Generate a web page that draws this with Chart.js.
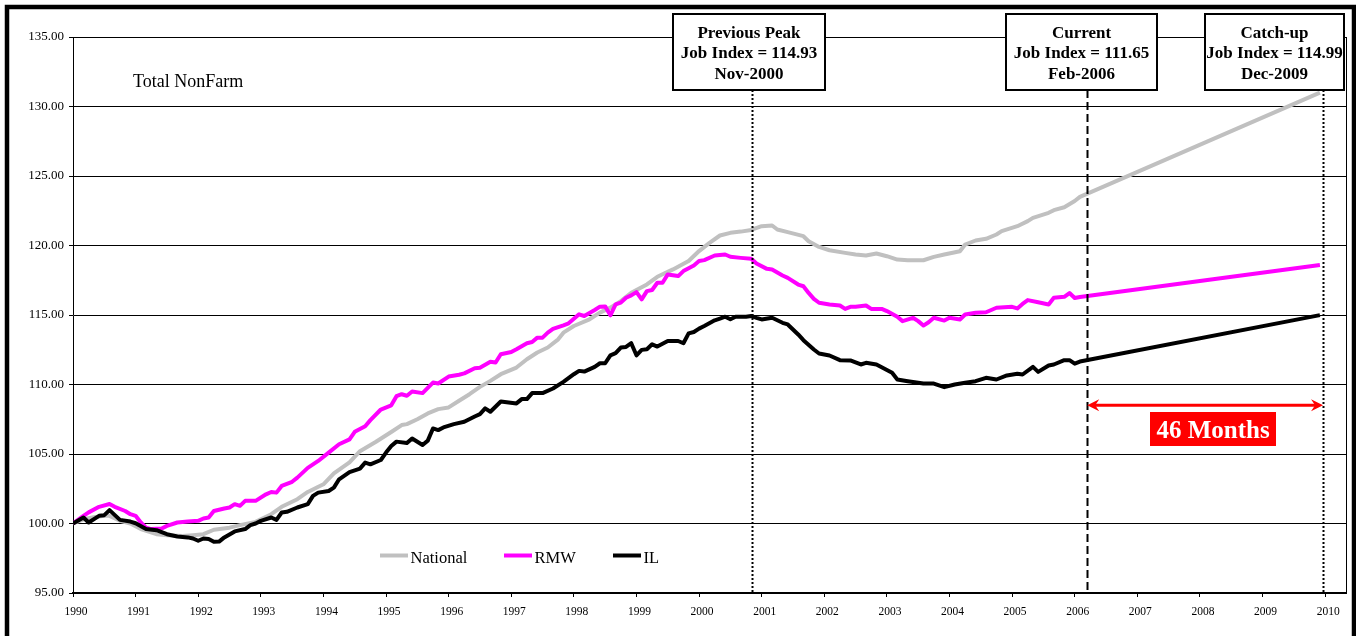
<!DOCTYPE html>
<html>
<head>
<meta charset="utf-8">
<script src="https://cdn.jsdelivr.net/npm/chart.js@4.4.0/dist/chart.umd.min.js"></script>
<style>
html,body{margin:0;padding:0;background:#fff;}
#wrap{width:1356px;height:636px;position:relative;overflow:hidden;}
</style>
</head>
<body>
<div id="wrap"><canvas id="c" width="1356" height="636"></canvas></div>
<script>
// ---------- DATA (x = months since Jan-1990) ----------
const yearTickMonths = [0,12,24,36,48,60,72,84,96,108,120,132,144,156,168,180,192,204,216,228,240];
const yearLabels = ['1990','1991','1992','1993','1994','1995','1996','1997','1998','1999','2000',
                    '2001','2002','2003','2004','2005','2006','2007','2008','2009','2010'];

const nationalMonths = [
  0,2,4,6,7,9,11,13,16,18,
  21,23,25,27,30,32,35,38,40,43,
  45,48,50,53,55,58,61,63,64,66,
  68,70,72,74,76,78,80,82,85,87,
  89,91,93,94,96,99,101,103,105,107,
  110,112,115,118,120,122,124,126,128,130,
  132,134,135,137,140,141,143,145,148,150,
  152,154,156,158,160,163,165,167,170,171,
  173,175,177,178,181,183,184,187,188,190,
  192,193,239];
const nationalValues = [
  100.00,100.30,100.45,100.55,100.55,100.20,100.00,99.60,99.23,99.16,
  99.10,99.16,99.23,99.55,99.70,99.88,100.12,100.67,101.20,101.75,
  102.27,102.82,103.60,104.40,105.20,105.86,106.58,107.08,107.15,107.50,
  107.92,108.23,108.35,108.83,109.30,109.83,110.26,110.74,111.22,111.82,
  112.30,112.66,113.25,113.73,114.21,114.69,115.17,115.53,116.00,116.60,
  117.20,117.75,118.28,118.88,119.60,120.19,120.72,120.91,121.00,121.12,
  121.39,121.44,121.15,120.96,120.67,120.31,119.90,119.66,119.47,119.35,
  119.28,119.42,119.23,118.99,118.94,118.94,119.18,119.35,119.59,120.07,
  120.36,120.48,120.79,121.03,121.39,121.75,121.99,122.35,122.54,122.75,
  123.20,123.50,131.00];

const rmwMonths = [
  0,2,3,5,7,8,10,11,12,13,
  14,15,17,18,20,22,24,25,26,27,
  29,30,31,32,33,35,37,38,39,40,
  42,43,45,47,49,51,53,54,56,57,
  59,61,62,63,64,65,67,69,70,72,
  74,75,77,78,80,81,82,84,85,87,
  88,89,90,91,92,94,95,97,98,
  100,101,102,103,104,105,106,107,108,109,
  110,111,112,113,114,116,117,119,120,121,
  123,125,126,128,130,131,133,134,136,137,
  139,140,141,142,143,145,147,148,149,150,
  152,153,155,156,158,159,161,162,163,164,
  165,167,168,170,171,173,175,177,180,181,
  182,183,185,187,188,190,191,192,193,239];
const rmwValues = [
  100.00,100.55,100.80,101.20,101.40,101.20,100.90,100.67,100.55,100.07,
  99.70,99.60,99.64,99.83,100.07,100.14,100.19,100.36,100.43,100.90,
  101.08,101.15,101.39,101.27,101.63,101.63,102.10,102.27,102.22,102.70,
  103.00,103.30,104.00,104.50,105.10,105.70,106.05,106.60,107.00,107.44,
  108.20,108.50,109.16,109.30,109.19,109.50,109.38,110.14,110.07,110.57,
  110.70,110.80,111.17,111.20,111.63,111.58,112.18,112.34,112.54,112.97,
  113.06,113.37,113.37,113.73,114.00,114.26,114.40,115.05,114.93,
  115.36,115.60,115.62,114.98,115.77,115.89,116.24,116.41,116.65,116.12,
  116.72,116.80,117.32,117.32,117.92,117.80,118.16,118.56,118.88,118.95,
  119.28,119.35,119.19,119.11,119.04,118.70,118.32,118.27,117.84,117.67,
  117.19,117.07,116.59,116.16,115.88,115.76,115.68,115.44,115.59,115.59,
  115.68,115.44,115.44,115.28,114.87,114.56,114.80,114.56,114.24,114.48,
  114.80,114.60,114.80,114.68,115.04,115.16,115.20,115.52,115.59,115.47,
  115.80,116.07,115.92,115.76,116.24,116.31,116.58,116.22,116.30,118.60];

const ilMonths = [
  0,2,3,5,6,7,9,11,12,14,
  16,18,20,22,23,24,25,26,27,28,
  29,31,33,34,35,36,38,39,40,41,
  43,45,46,47,49,50,51,53,55,56,
  57,59,60,61,62,64,65,67,68,69,
  70,71,73,75,77,78,79,80,82,85,
  86,87,88,90,92,94,96,97,98,100,
  101,102,103,104,105,106,107,108,109,110,
  111,112,114,116,117,118,119,120,121,123,
  124,125,126,127,129,130,131,132,134,136,
  137,139,140,142,143,145,147,149,151,152,
  154,157,158,160,163,165,167,169,171,173,
  175,177,179,181,182,184,185,187,188,190,
  191,192,193,239];
const ilValues = [
  100.00,100.43,100.07,100.55,100.60,100.96,100.26,100.14,100.02,99.60,
  99.52,99.23,99.07,99.00,98.92,98.76,98.92,98.88,98.68,98.70,
  99.00,99.43,99.60,99.88,100.00,100.19,100.43,100.26,100.79,100.84,
  101.15,101.39,101.99,102.22,102.34,102.58,103.18,103.70,103.95,104.38,
  104.26,104.57,105.10,105.57,105.89,105.79,106.12,105.65,105.96,106.84,
  106.72,106.91,107.15,107.32,107.70,107.87,108.28,108.04,108.78,108.64,
  108.95,108.95,109.38,109.38,109.71,110.19,110.74,110.98,110.93,111.27,
  111.53,111.53,112.10,112.25,112.66,112.70,112.97,112.10,112.49,112.54,
  112.89,112.73,113.13,113.13,112.97,113.68,113.78,114.02,114.21,114.62,
  114.74,114.88,114.69,114.88,114.88,114.93,114.80,114.68,114.80,114.44,
  114.32,113.60,113.19,112.52,112.23,112.09,111.75,111.73,111.44,111.56,
  111.44,110.84,110.36,110.24,110.07,110.07,109.81,110.00,110.12,110.24,
  110.48,110.36,110.65,110.77,110.72,111.27,110.91,111.37,111.44,111.75,
  111.75,111.50,111.65,114.99];

const seriesNames = ['National','RMW','IL'];
const markerMonths = [130.1, 194.4, 239.6];          // Nov-2000, Feb-2006, Dec-2009 markers
const markerTexts = [
  ['Previous Peak','Job Index = 114.93','Nov-2000'],
  ['Current','Job Index = 111.65','Feb-2006'],
  ['Catch-up','Job Index = 114.99','Dec-2009']
];
const chartTitle = 'Total NonFarm';
const gapText = '46 Months';
const arrowLevel = 108.5;   // y value of the red arrow
const yTicks = [95,100,105,110,115,120,125,130,135];

// ---------- sanity ----------
[[nationalMonths,nationalValues],[rmwMonths,rmwValues],[ilMonths,ilValues]].forEach(([m,v],i)=>{
  if (m.length!==v.length) throw new Error('length mismatch in series '+i+': '+m.length+' vs '+v.length);
});
const toPts = (m,v)=>m.map((x,i)=>({x, y:v[i]}));

const SERIF = '"Liberation Serif", "Times New Roman", serif';

const overlay = {
  id:'overlay',
  afterDraw(chart){
    const {ctx, chartArea:a, scales:{x, y}} = chart;
    ctx.save();
    // right frame of plot
    ctx.strokeStyle = '#000'; ctx.lineWidth = 1; ctx.setLineDash([]);
    ctx.beginPath(); ctx.moveTo(a.right+0.5, a.top); ctx.lineTo(a.right+0.5, a.bottom); ctx.stroke();

    // title text
    ctx.fillStyle = '#000';
    ctx.font = '18px ' + SERIF;
    ctx.textAlign = 'left'; ctx.textBaseline = 'alphabetic';
    ctx.fillText(chartTitle, 133, 87);

    // vertical marker lines
    const boxBottom = 90, boxTop = 14;
    const styles = [[2,2],[8,4],[2,2]];
    markerMonths.forEach((m,i)=>{
      const px = Math.round(x.getPixelForValue(m)) + 0.5;
      ctx.strokeStyle = '#000'; ctx.lineWidth = 2; ctx.setLineDash(styles[i]);
      ctx.beginPath(); ctx.moveTo(px, boxBottom); ctx.lineTo(px, a.bottom); ctx.stroke();
    });
    ctx.setLineDash([]);

    // annotation boxes
    const boxes = [{l:673,r:825},{l:1006,r:1157},{l:1205,r:1344}];
    boxes.forEach((b,i)=>{
      ctx.fillStyle = '#fff';
      ctx.fillRect(b.l, boxTop, b.r-b.l, boxBottom-boxTop);
      ctx.strokeStyle = '#000'; ctx.lineWidth = 2;
      ctx.strokeRect(b.l, boxTop, b.r-b.l, boxBottom-boxTop);
      ctx.fillStyle = '#000';
      ctx.font = 'bold 17px ' + SERIF;
      ctx.textAlign = 'center'; ctx.textBaseline = 'alphabetic';
      const cx = (b.l+b.r)/2;
      markerTexts[i].forEach((t,j)=> ctx.fillText(t, cx, 37.5 + j*20.6));
    });

    // red double arrow
    const x1 = x.getPixelForValue(markerMonths[1]);
    const x2 = x.getPixelForValue(markerMonths[2]);
    const ay = y.getPixelForValue(arrowLevel);
    ctx.strokeStyle = '#ff0000'; ctx.fillStyle = '#ff0000'; ctx.lineWidth = 3;
    ctx.beginPath(); ctx.moveTo(x1+6, ay); ctx.lineTo(x2-6, ay); ctx.stroke();
    const head = (tx, dir)=>{
      ctx.beginPath();
      ctx.moveTo(tx, ay);
      ctx.lineTo(tx + dir*12, ay - 6);
      ctx.lineTo(tx + dir*8, ay);
      ctx.lineTo(tx + dir*12, ay + 6);
      ctx.closePath(); ctx.fill();
    };
    head(x1, 1); head(x2, -1);

    // 46 Months label
    ctx.fillStyle = '#ff0000';
    ctx.fillRect(1150, 412, 126, 34);
    ctx.fillStyle = '#fff';
    ctx.font = 'bold 25px ' + SERIF;
    ctx.textAlign = 'center'; ctx.textBaseline = 'alphabetic';
    ctx.fillText(gapText, 1213, 437.5);

    // legend
    const leg = [{x:380, c:'#c0c0c0'},{x:504, c:'#ff00ff'},{x:613, c:'#000000'}];
    ctx.font = '16.5px ' + SERIF; ctx.textAlign = 'left';
    leg.forEach((l,i)=>{
      ctx.strokeStyle = l.c; ctx.lineWidth = 4; ctx.lineCap = 'butt';
      ctx.beginPath(); ctx.moveTo(l.x, 555.5); ctx.lineTo(l.x+28, 555.5); ctx.stroke();
      ctx.fillStyle = '#000';
      ctx.fillText(seriesNames[i], l.x+30.5, 563);
    });

    // outer border
    ctx.strokeStyle = '#000'; ctx.lineWidth = 4.5;
    ctx.strokeRect(7, 7, 1347, 640);
    ctx.restore();
  }
};

const baseDs = {pointRadius:0, borderWidth:4, tension:0, fill:false, borderJoinStyle:'round', borderCapStyle:'butt'};

new Chart(document.getElementById('c'), {
  type:'line',
  data:{
    datasets:[
      Object.assign({label:seriesNames[0], data:toPts(nationalMonths,nationalValues), borderColor:'#c0c0c0', order:3}, baseDs),
      Object.assign({label:seriesNames[1], data:toPts(rmwMonths,rmwValues), borderColor:'#ff00ff', order:2}, baseDs),
      Object.assign({label:seriesNames[2], data:toPts(ilMonths,ilValues), borderColor:'#000000', order:1}, baseDs)
    ]
  },
  options:{
    responsive:false,
    animation:false,
    devicePixelRatio:1,
    layout:{padding:{left:0, top:37, right:10, bottom:0}},
    plugins:{legend:{display:false}, tooltip:{enabled:false}, title:{display:false}},
    scales:{
      x:{
        type:'linear', min:0, max:244,
        afterBuildTicks:(s)=>{ s.ticks = yearTickMonths.map(v=>({value:v})); },
        afterFit:(s)=>{ s.height = 43; },
        grid:{drawOnChartArea:false, drawTicks:true, tickLength:4, color:'#000', lineWidth:1},
        border:{display:true, color:'#000', width:2},
        ticks:{
          autoSkip:false, maxRotation:0, minRotation:0, padding:8, labelOffset:3,
          color:'#000', font:{family:SERIF, size:11.5},
          callback:(v)=>{ const i = yearTickMonths.indexOf(v); return i>=0 ? yearLabels[i] : ''; }
        }
      },
      y:{
        min:95, max:135,
        afterBuildTicks:(s)=>{ s.ticks = yTicks.map(v=>({value:v})); },
        afterFit:(s)=>{ s.width = 73; },
        grid:{color:'#000', lineWidth:1, tickLength:4, drawTicks:true},
        border:{display:true, color:'#000', width:1},
        ticks:{padding:5, color:'#000', font:{family:SERIF, size:13}, callback:(v)=>Number(v).toFixed(2)}
      }
    }
  },
  plugins:[overlay]
});
</script>
</body>
</html>
